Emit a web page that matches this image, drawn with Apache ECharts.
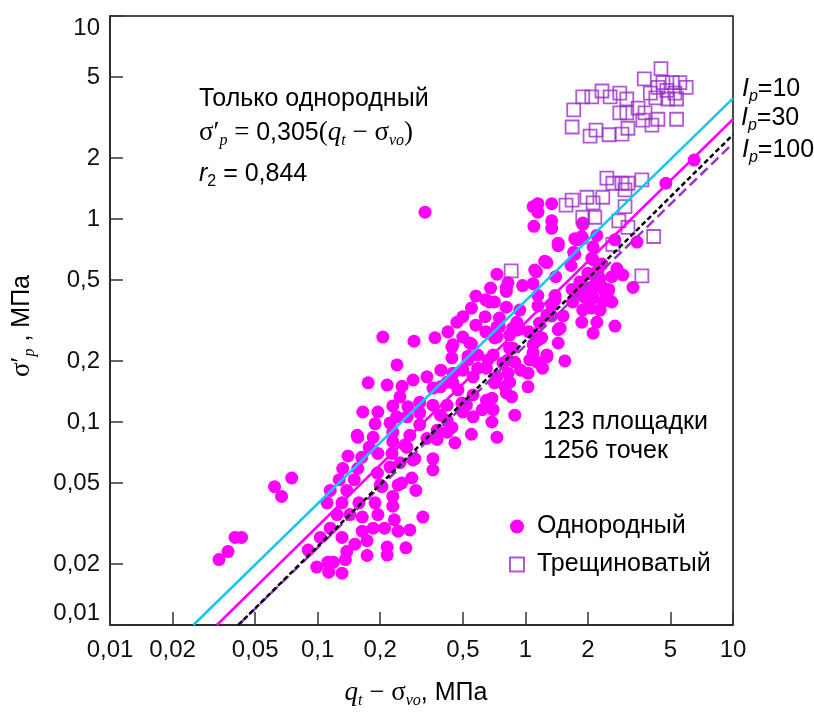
<!DOCTYPE html>
<html>
<head>
<meta charset="utf-8">
<script src="https://cdn.jsdelivr.net/npm/echarts@6.0.0/dist/echarts.min.js"></script>
<style>
html, body { margin: 0; padding: 0; background: #fff; }
#chart { width: 814px; height: 713px; }
</style>
</head>
<body>
<div id="chart"></div>
<script>
// tick positions on both log axes
var tickValues = [0.01, 0.02, 0.05, 0.1, 0.2, 0.5, 1, 2, 5, 10];
var tickLabels = ['0,01', '0,02', '0,05', '0,1', '0,2', '0,5', '1', '2', '5', '10'];

// homogeneous clays (qt - svo, MPa ; s'p, MPa)
var homX = [0.0335,0.037,0.040,0.043,0.062,0.067,0.075,0.090,0.099,0.103,
  0.112,0.113,0.119,0.115,0.111,0.115,0.127,0.132,0.140,0.156,
  0.185,0.189,0.124,0.131,0.131,0.138,0.131,0.136,0.151,0.138,
  0.150,0.156,0.163,0.177,0.195,0.143,0.158,0.164,0.164,0.173,
  0.185,0.195,0.189,0.200,0.194,0.223,0.228,0.23,0.23,0.223,
  0.263,0.278,0.31,0.336,0.359,0.359,0.288,0.249,0.244,0.23,
  0.23,0.204,0.21,0.234,0.244,0.216,0.216,0.266,0.278,0.284,
  0.297,0.321,0.173,
  0.206,0.291,0.367,0.424,0.241,0.175,0.216,0.255,0.288,0.336,
  0.392,0.39,0.448,0.443,0.443,0.50,0.55,0.468,0.50,0.55,
  0.578,0.578,0.64,0.67,0.71,0.68,0.81,0.97,1.09,0.81,
  0.75,0.75,0.71,0.645,0.94,0.91,0.91,0.87,0.825,0.70,
  0.59,0.53,0.50,0.56,0.65,0.73,0.84,1.03,1.05,1.09,
  1.03,0.81,0.69,0.56,0.495,0.42,0.359,0.31,0.272,0.249,
  0.23,0.165,0.195,0.24,0.27,0.376,0.42,0.443,0.50,0.62,
  0.70,0.69,0.56,0.55,0.73,0.89,0.155,0.42,0.359,0.42,
  0.474,0.52,0.65,0.80,0.86,0.31,0.39,0.458,0.376,0.269,
  0.294,0.254,
  0.329,1.15,1.15,1.34,1.34,1.34,1.10,1.89,1.77,1.89,
  2.21,2.12,1.44,1.73,1.66,1.24,1.13,1.40,0.73,0.825,
  0.81,0.73,0.448,0.54,0.84,0.94,1.11,1.17,1.34,1.39,
  1.34,1.52,1.47,1.44,1.83,2.12,2.29,2.36,2.12,2.50,
  1.77,1.94,2.12,1.68,1.89,2.07,2.36,2.61,2.0,2.24,
  2.76,2.95,3.3,1.87,2.21,2.12,2.7,3.45,2.7,6.5,
  4.75,1.71,1.87,2.12,2.17,2.61,1.77,1.98,2.41,1.69,
  1.44,1.2,1.27,1.55,1.21,1.15,1.09,1.27,1.14,1.04,
  1.15,1.27,1.39,1.15,1.11,1.27,1.44,1.73,1.89,2.09,
  2.34,2.04,2.52,2.29,1.09,0.645,0.73,0.87,0.448,0.53,
  0.59,0.66,0.84,0.78,0.89,0.825,0.95,0.71];
var homY = [0.021,0.023,0.027,0.027,0.048,0.043,0.053,0.0234,0.0193,0.027,
  0.0204,0.0182,0.0204,0.030,0.040,0.046,0.052,0.059,0.068,0.084,
  0.084,0.098,0.035,0.040,0.027,0.023,0.018,0.021,0.025,0.046,
  0.052,0.059,0.067,0.075,0.070,0.035,0.040,0.034,0.029,0.022,
  0.030,0.035,0.040,0.049,0.056,0.060,0.070,0.080,0.089,0.099,
  0.077,0.086,0.097,0.083,0.066,0.058,0.065,0.063,0.049,0.043,
  0.0385,0.048,0.030,0.033,0.029,0.0242,0.0221,0.024,0.0294,0.053,
  0.046,0.034,0.026,
  0.262,0.25,0.26,0.278,0.191,0.156,0.152,0.150,0.161,0.167,
  0.180,0.149,0.156,0.207,0.234,0.262,0.242,0.31,0.33,0.364,
  0.417,0.30,0.33,0.39,0.39,0.457,0.46,0.47,0.48,0.368,
  0.325,0.294,0.26,0.278,0.356,0.31,0.284,0.231,0.202,0.214,
  0.214,0.202,0.18,0.167,0.184,0.167,0.157,0.174,0.202,0.24,
  0.149,0.139,0.131,0.136,0.124,0.121,0.121,0.125,0.119,0.133,
  0.120,0.112,0.112,0.106,0.106,0.091,0.102,0.094,0.112,0.115,
  0.115,0.10,0.106,0.087,0.084,0.108,0.086,0.089,0.147,0.157,
  0.144,0.121,0.128,0.149,0.133,0.111,0.108,0.079,0.082,0.075,
  0.066,0.050,
  1.08,1.19,1.08,1.19,0.98,0.90,0.92,0.955,0.79,0.80,
  0.83,0.73,0.74,0.67,0.59,0.62,0.55,0.52,0.535,0.485,
  0.44,0.262,0.24,0.245,0.268,0.287,0.268,0.307,0.373,0.42,
  0.333,0.333,0.29,0.245,0.49,0.535,0.51,0.46,0.457,0.437,
  0.42,0.41,0.41,0.45,0.356,0.364,0.39,0.39,0.54,0.56,
  0.57,0.53,0.46,0.31,0.31,0.274,0.297,0.77,0.79,1.95,
  1.50,0.685,0.82,0.63,0.52,0.52,0.44,0.43,0.44,0.39,
  0.285,0.26,0.209,0.20,0.184,0.253,0.22,0.214,0.197,0.278,
  0.373,0.336,0.40,0.42,0.56,0.61,0.76,0.80,0.94,0.64,
  0.60,0.46,0.45,0.356,1.15,0.40,0.294,0.29,0.174,0.211,
  0.184,0.202,0.231,0.195,0.197,0.174,0.18,0.156];

// fissured clays
var crackX = [4.5,3.74,4.6,5.1,5.55,5.95,4.0,4.35,4.8,5.25,
  4.25,4.85,5.35,1.89,2.09,2.34,2.56,2.85,3.08,1.71,
  2.85,3.08,3.49,3.77,4.35,4.07,3.68,5.35,1.68,2.05,
  2.19,2.53,2.92,3.12,2.47,2.64,2.92,3.12,3.64,3.02,
  1.68,1.57,1.98,2.12,2.36,1.89,2.16,3.02,2.82,3.12,
  4.15,2.64,3.64,0.855];
var crackY = [5.5,4.9,4.7,4.7,4.7,4.45,4.17,4.45,4.3,4.17,
  3.95,3.9,3.9,4.0,4.0,4.27,4.0,4.17,3.9,3.45,
  3.33,3.33,3.52,3.33,3.1,2.9,3.07,3.1,2.84,2.56,
  2.74,2.6,2.62,2.8,1.59,1.5,1.5,1.5,1.56,1.39,
  1.24,1.17,1.28,1.2,1.28,1.02,1.02,1.15,0.98,0.91,
  0.82,0.75,0.525,0.555];

// trend lines (end points)
var ip10X = [0.0252, 10], ip10Y = [0.01, 3.93];
var ip30X = [0.0327, 10], ip30Y = [0.01, 3.1];
var fitX = [0.0415, 10], fitY = [0.01, 2.6];
var ip100X = [0.0415, 10], ip100Y = [0.01, 2.36];

function lg(xs, ys) {
  return xs.map(function (x, i) { return [Math.log10(x), Math.log10(ys[i])]; });
}
var tickLogs = tickValues.map(function (v) { return Math.log10(v); });
function fmtTick(v) {
  for (var i = 0; i < tickLogs.length; i++) {
    if (Math.abs(tickLogs[i] - v) < 1e-6) return tickLabels[i];
  }
  return '';
}

var SANS = '"Liberation Sans", Arial, sans-serif';
var SERIF = '"Liberation Serif", "Times New Roman", serif';

function axisCfg(isY) {
  return {
    type: 'value',
    min: -2,
    max: 1,
    splitLine: { show: false },
    axisLine: { show: true, onZero: false, lineStyle: { color: '#222', width: 1.5 } },
    axisTick: { show: true, inside: true, length: 13, customValues: tickLogs, lineStyle: { color: '#333', width: 1.5 } },
    axisLabel: {
      customValues: tickLogs,
      formatter: fmtTick,
      color: '#111',
      fontSize: 24,
      fontFamily: SANS,
      margin: isY ? 10 : 13,
      verticalAlignMinLabel: isY ? 'bottom' : null,
      verticalAlignMaxLabel: isY ? 'top' : null
    }
  };
}

var chart = echarts.init(document.getElementById('chart'));

var sub = { fontFamily: SERIF, fontStyle: 'italic', fontSize: 16, lineHeight: 16, verticalAlign: 'bottom', fill: '#000' };
var subSans = { fontFamily: SANS, fontStyle: 'italic', fontSize: 16, lineHeight: 16, verticalAlign: 'bottom', fill: '#000' };
var sr = { fontFamily: SERIF, fontSize: 27, lineHeight: 32, fill: '#000' };
var si = { fontFamily: SERIF, fontStyle: 'italic', fontSize: 27, lineHeight: 32, fill: '#000' };
var sn = { fontFamily: SANS, fontSize: 25, lineHeight: 32, fill: '#000' };
var snI = { fontFamily: SANS, fontStyle: 'italic', fontSize: 25, lineHeight: 32, fill: '#000' };

function plainText(x, y, txt) {
  return { type: 'text', x: x, y: y, z: 100,
    style: { text: txt, fontFamily: SANS, fontSize: 25, fill: '#000', verticalAlign: 'middle' } };
}
function ipLabel(x, y, val) {
  return { type: 'text', x: x, y: y, z: 100,
    style: { text: '{i|I}{s|p}{n|=' + val + '}', verticalAlign: 'middle', rich: { i: snI, s: subSans, n: sn } } };
}

var option = {
  animation: false,
  backgroundColor: '#fff',
  grid: { left: 110, right: 81, top: 16, bottom: 88, show: true, borderColor: '#111', borderWidth: 1.5 },
  xAxis: axisCfg(false),
  yAxis: axisCfg(true),
  legend: {
    data: ['Однородный', 'Трещиноватый'],
    orient: 'vertical',
    left: 509,
    top: 514,
    itemGap: 13,
    itemWidth: 14,
    itemHeight: 14,
    padding: 0,
    textStyle: { fontFamily: SANS, fontSize: 25, color: '#000', padding: [0, 0, 0, 8] }
  },
  series: [
    { type: 'line', name: 'Ip=10', data: lg(ip10X, ip10Y), symbol: 'none', silent: true,
      lineStyle: { color: '#17c5f0', width: 2.5 } },
    { type: 'line', name: 'Ip=30', data: lg(ip30X, ip30Y), symbol: 'none', silent: true,
      lineStyle: { color: '#ff00ff', width: 2.5 } },
    { type: 'line', name: 'Ip=100', data: lg(ip100X, ip100Y), symbol: 'none', silent: true,
      lineStyle: { color: '#9a32cd', width: 2.5, type: [10, 5] } },
    { type: 'line', name: 'fit', data: lg(fitX, fitY), symbol: 'none', silent: true,
      lineStyle: { color: '#000', width: 2.5, type: [5, 3] } },
    { type: 'scatter', name: 'Однородный', data: lg(homX, homY), symbol: 'circle', symbolSize: 13,
      itemStyle: { color: '#ff00ff', opacity: 1 } },
    { type: 'scatter', name: 'Трещиноватый', data: lg(crackX, crackY), symbol: 'rect', symbolSize: 13,
      itemStyle: { color: 'rgba(0,0,0,0)', borderColor: '#9b30c9', borderWidth: 1.8 } }
  ],
  graphic: [
    plainText(199, 99, 'Только однородный'),
    { type: 'text', x: 199, y: 133, z: 100,
      style: { text: '{r|σ′}{s|p}{r| = }{n|0,305}{r|(}{i|q}{s|t}{r| − σ}{s|vo}{r|)}', verticalAlign: 'middle',
        rich: { r: sr, i: si, n: sn, s: sub } } },
    { type: 'text', x: 199, y: 174, z: 100,
      style: { text: '{i|r}{s|2}{n| = 0,844}', verticalAlign: 'middle',
        rich: { i: snI, s: { fontFamily: SANS, fontSize: 16, lineHeight: 16, verticalAlign: 'bottom', fill: '#000' }, n: sn } } },
    ipLabel(742, 89, '10'),
    ipLabel(741, 118, '30'),
    ipLabel(742, 150, '100'),
    plainText(543, 422, '123 площадки'),
    plainText(543, 451, '1256 точек'),
    { type: 'text', x: 416, y: 693, z: 100,
      style: { text: '{i|q}{s|t}{r| − σ}{s|vo}{n|, МПа}', align: 'center', verticalAlign: 'middle',
        rich: { i: si, r: sr, s: sub, n: sn } } },
    { type: 'text', x: 22, y: 326, rotation: Math.PI / 2, z: 100,
      style: { text: '{r|σ′}{s|p}{n| , МПа}', align: 'center', verticalAlign: 'middle',
        rich: { r: sr, s: sub, n: sn } } }
  ]
};

chart.setOption(option);
</script>
</body>
</html>
